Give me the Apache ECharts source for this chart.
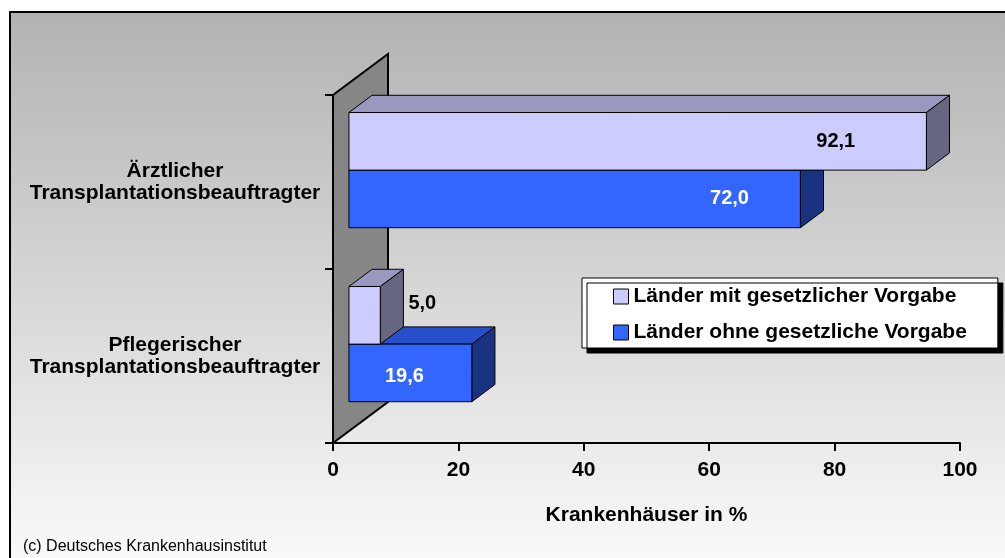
<!DOCTYPE html>
<html>
<head>
<meta charset="utf-8">
<script src="https://cdn.jsdelivr.net/npm/echarts@6/dist/echarts.min.js"></script>
<style>
html, body { margin: 0; padding: 0; background: #fff; }
#chart { width: 1005px; height: 558px; }
</style>
</head>
<body>
<div id="chart"></div>
<script>
// data
var categories = ['Ärztlicher\nTransplantationsbeauftragter', 'Pflegerischer\nTransplantationsbeauftragter'];
var seriesNames = ['Länder mit gesetzlicher Vorgabe', 'Länder ohne gesetzliche Vorgabe'];
var mitVorgabe = [92.1, 5.0];
var ohneVorgabe = [72.0, 19.6];
var xTicks = [0, 20, 40, 60, 80, 100];

// 3d look
var WALL_DX = 55, WALL_DY = -41;
var FRONT_FRAC = 0.29, DEPTH_FRAC = 0.42;
var BAR_FRAC = 0.331;
var FONT = '"Liberation Sans", Arial, sans-serif';
var colors = [
	{front: '#ccccff', top: '#9999bf', side: '#666680', label: '#000'},
	{front: '#3366ff', top: '#2850cc', side: '#1a3380', label: '#fff'}
];

function fmt(v){
	return v.toFixed(1).replace('.', ',');
}

function barRenderer(s){
	return function(params, api){
		var c = api.value(1), v = api.value(0);
		var base = api.coord([0, c]);
		var end = api.coord([v, c]);
		var band = api.size([0, 1])[1];
		var h = band * BAR_FRAC;
		var ox = WALL_DX * FRONT_FRAC, oy = WALL_DY * FRONT_FRAC;
		var dx = WALL_DX * DEPTH_FRAC, dy = WALL_DY * DEPTH_FRAC;
		var mid = base[1] + oy;
		var y0 = s === 0 ? mid - h : mid;
		var y1 = y0 + h;
		var x0 = base[0] + ox, x1 = end[0] + ox;
		var col = colors[s];
		var line = {stroke: '#000', lineWidth: 1};

		var len = x1 - x0;
		var lx, ly = (y0 + y1) / 2, align = 'center', lcol = col.label;
		if(len < 60){
			lx = x1 + dx + 5; ly = (y0 + y1) / 2 + dy * 0.7; align = 'left'; lcol = '#000';
		}else if(len < 200){
			lx = (x0 + x1) / 2 - 6; ly += 4;
		}else{
			lx = x0 + 0.843 * len;
		}

		return {
			type: 'group',
			children: [
				{type: 'polygon', shape: {points: [[x0, y0], [x1, y0], [x1 + dx, y0 + dy], [x0 + dx, y0 + dy]]},
					style: Object.assign({fill: col.top}, line)},
				{type: 'polygon', shape: {points: [[x1, y0], [x1, y1], [x1 + dx, y1 + dy], [x1 + dx, y0 + dy]]},
					style: Object.assign({fill: col.side}, line)},
				{type: 'rect', shape: {x: x0, y: y0, width: len, height: h},
					style: Object.assign({fill: col.front}, line)},
				{type: 'text', style: {text: fmt(v), x: lx, y: ly, align: align, verticalAlign: 'middle',
					fill: lcol, font: 'bold 20px ' + FONT}}
			]
		};
	};
}

function wallRenderer(params, api){
	var r = params.coordSys;
	return {
		type: 'polygon',
		shape: {points: [[r.x, r.y + r.height], [r.x, r.y], [r.x + WALL_DX, r.y + WALL_DY], [r.x + WALL_DX, r.y + r.height + WALL_DY]]},
		style: {fill: '#868686', stroke: '#000', lineWidth: 2}
	};
}

var chart = echarts.init(document.getElementById('chart'));
var option = {
	animation: false,
	graphic: [
		{type: 'rect', z: -10, shape: {x: 10, y: 12, width: 1010, height: 560},
			style: {stroke: '#000', lineWidth: 2,
				fill: new echarts.graphic.LinearGradient(0, 0, 0, 1, [
					{offset: 0, color: '#b2b2b2'}, {offset: 1, color: '#fbfbfb'}])}},
		{type: 'text', left: 23, top: 539,
			style: {text: '(c) Deutsches Krankenhausinstitut', font: '16px ' + FONT, fill: '#000'}}
	],
	grid: {left: 333, right: 45, top: 95, bottom: 115},
	legend: {
		orient: 'vertical', left: 582, top: 278,
		data: seriesNames,
		selectedMode: false,
		icon: 'rect', itemWidth: 15, itemHeight: 15, itemGap: 15,
		padding: [8, 31, 5, 31],
		backgroundColor: '#fff', borderColor: '#000', borderWidth: 1,
		shadowColor: '#000', shadowBlur: 0, shadowOffsetX: 5, shadowOffsetY: 5,
		itemStyle: {borderColor: '#000', borderWidth: 1},
		textStyle: {fontFamily: FONT, fontWeight: 'bold', fontSize: 21, color: '#000'}
	},
	xAxis: {
		type: 'value', min: xTicks[0], max: xTicks[xTicks.length - 1], interval: 20,
		name: 'Krankenhäuser in %', nameLocation: 'middle', nameGap: 62,
		nameTextStyle: {fontFamily: FONT, fontWeight: 'bold', fontSize: 21, color: '#000'},
		axisLine: {show: true, lineStyle: {color: '#000', width: 2}},
		axisTick: {show: true, length: 8, lineStyle: {color: '#000', width: 2}},
		axisLabel: {margin: 17, fontFamily: FONT, fontWeight: 'bold', fontSize: 21, color: '#000'},
		splitLine: {show: false}
	},
	yAxis: {
		type: 'category', data: categories, inverse: true,
		axisLine: {show: true, lineStyle: {color: '#000', width: 2}},
		axisTick: {show: true, length: 8, lineStyle: {color: '#000', width: 2}},
		axisLabel: {margin: 158, align: 'center', lineHeight: 22,
			fontFamily: FONT, fontWeight: 'bold', fontSize: 21, color: '#000'}
	},
	series: [
		{name: 'wall', type: 'custom', z: 1, silent: true, renderItem: wallRenderer,
			data: [[0, 0]], encode: {x: 0, y: 1}},
		{name: seriesNames[1], type: 'custom', z: 2, renderItem: barRenderer(1),
			itemStyle: {color: colors[1].front},
			data: ohneVorgabe.map(function(v, i){ return [v, i]; }), encode: {x: 0, y: 1}},
		{name: seriesNames[0], type: 'custom', z: 3, renderItem: barRenderer(0),
			itemStyle: {color: colors[0].front},
			data: mitVorgabe.map(function(v, i){ return [v, i]; }), encode: {x: 0, y: 1}}
	]
};
chart.setOption(option);
</script>
</body>
</html>
